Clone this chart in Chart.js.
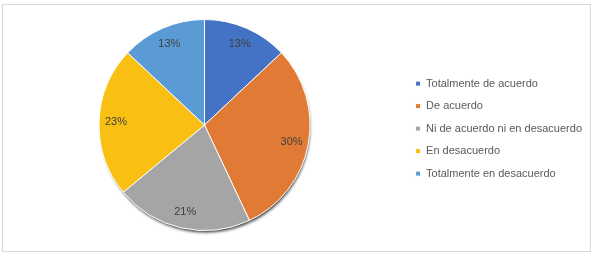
<!DOCTYPE html>
<html>
<head>
<meta charset="utf-8">
<script src="https://cdn.jsdelivr.net/npm/chart.js@4"></script>
<style>
  html, body { margin: 0; padding: 0; background: #fff; }
  #wrap { width: 595px; height: 256px; }
</style>
</head>
<body>
<div id="wrap"><canvas id="pieChart" width="595" height="256"></canvas></div>
<script>
// Datos del gráfico
const categorias = ['Totalmente de acuerdo', 'De acuerdo', 'Ni de acuerdo ni en desacuerdo', 'En desacuerdo', 'Totalmente en desacuerdo'];
const porcentajes = [13, 30, 21, 23, 13];
const colores = ['#4472C4', '#E07A35', '#A5A5A5', '#F9BF12', '#5B9BD5'];

// Marco gris alrededor del gráfico
const marco = {
    id: 'marco',
    beforeDraw(chart) {
        const c = chart.ctx;
        c.save();
        c.strokeStyle = '#d9d9d9';
        c.lineWidth = 1;
        c.strokeRect(2.5, 4.5, 588, 247);
        c.restore();
    }
};

// Sombra bajo el pastel
const sombra = {
    id: 'sombra',
    beforeDatasetsDraw(chart) {
        const arc = chart.getDatasetMeta(0).data[0];
        if (!arc) return;
        const c = chart.ctx;
        c.save();
        c.shadowColor = 'rgba(0,0,0,0.75)';
        c.shadowBlur = 3;
        c.shadowOffsetX = 1;
        c.shadowOffsetY = 3;
        c.fillStyle = '#555';
        c.beginPath();
        c.arc(arc.x, arc.y, arc.outerRadius - 1, 0, Math.PI * 2);
        c.fill();
        c.restore();
    }
};

// Etiquetas de porcentaje dentro de cada sector
const etiquetas = {
    id: 'etiquetas',
    afterDatasetsDraw(chart) {
        const c = chart.ctx;
        const meta = chart.getDatasetMeta(0);
        c.save();
        c.font = '11px "Liberation Sans", Arial, sans-serif';
        c.fillStyle = '#404040';
        c.textAlign = 'center';
        c.textBaseline = 'middle';
        meta.data.forEach((arc, i) => {
            const ang = (arc.startAngle + arc.endAngle) / 2;
            const r = arc.outerRadius * 0.84;
            c.fillText(porcentajes[i] + '%', arc.x + Math.cos(ang) * r, arc.y + Math.sin(ang) * r);
        });
        c.restore();
    }
};

const ctx = document.getElementById('pieChart').getContext('2d');
new Chart(ctx, {
    type: 'pie',
    data: {
        labels: categorias,
        datasets: [{
            data: porcentajes,
            backgroundColor: colores,
            borderColor: '#ffffff',
            borderWidth: 1
        }]
    },
    options: {
        responsive: false,
        animation: false,
        layout: {
            padding: { left: 5, right: 3, top: 19, bottom: 25 }
        },
        plugins: {
            legend: {
                display: true,
                position: 'right',
                title: { display: true, text: ' ', padding: 0, font: { size: 6 } },
                labels: {
                    boxWidth: 5,
                    boxHeight: 5,
                    padding: 11.5,
                    color: '#595959',
                    font: { family: '"Liberation Sans", Arial, sans-serif', size: 11 }
                }
            },
            tooltip: { enabled: false }
        }
    },
    plugins: [marco, sombra, etiquetas]
});
</script>
</body>
</html>
